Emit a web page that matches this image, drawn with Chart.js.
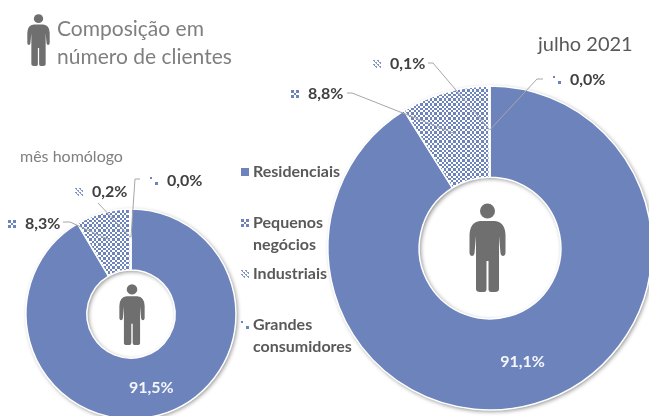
<!DOCTYPE html>
<html lang="pt">
<head>
<meta charset="utf-8">
<title>Composição em número de clientes</title>
<script src="https://cdn.jsdelivr.net/npm/chart.js@4"></script>
<style>
  html, body { margin: 0; padding: 0; background: #fff; }
  body { position: relative; width: 649px; height: 416px; overflow: hidden; font-family: Lato, sans-serif; }
  canvas { position: absolute; left: 0; top: 0; }
  .txt { position: absolute; white-space: nowrap; }
  svg { position: absolute; fill: #6f6f6f; }
</style>
</head>
<body>
<svg style="left:27px;top:14px;width:23px;height:52px" viewBox="0 0 37 89" preserveAspectRatio="none"><use href="#pessoa"/></svg>
<svg style="left:469px;top:203px;width:37px;height:89px" viewBox="0 0 37 89"><use href="#pessoa"/></svg>
<svg style="left:119px;top:284px;width:26px;height:61px" viewBox="0 0 37 89" preserveAspectRatio="none"><use href="#pessoa"/></svg>
<svg width="0" height="0"><defs><g id="pessoa">
  <circle cx="18.5" cy="8" r="7.5"/>
  <path d="M11 18 H26 Q36 19 36.5 32 V50 Q36 53 34 53 Q32 53 31.5 50 L30 33 V86 Q30 89 26 89 H22 Q19.5 89 19.5 86 V58 H17.5 V86 Q17.5 89 15 89 H11 Q7 89 7 86 V33 L5.5 50 Q5 53 3 53 Q1 53 .5 50 V32 Q1 19 11 18Z"/>
</g></defs></svg>

<canvas id="graficoHomologo" width="660" height="440" style="width:660px;height:440px"></canvas>
<canvas id="graficoJulho" width="660" height="440" style="width:660px;height:440px"></canvas>

<div class="txt" style="left:57px;top:14px;font-size:21px;line-height:28px;color:#7f7f7f">Composição em<br>número de clientes</div>
<div class="txt" style="left:538px;top:29px;font-size:20px;line-height:28px;color:#595959">julho 2021</div>
<div class="txt" style="left:20px;top:146px;font-size:16px;line-height:19px;color:#7f7f7f">mês homólogo</div>

<script>
// Dados
const categorias = ['Residenciais', 'Pequenos negócios', 'Industriais', 'Grandes consumidores'];
const valoresHomologo = [91.5, 8.3, 0.2, 0.0];
const valoresJulho = [91.1, 8.8, 0.1, 0.0];

const AZUL = '#6d83bb';
const CINZA_TEXTO = '#404040';

// Posição dos rótulos externos: [x do texto, y do texto, início da linha, cotovelo da linha]
const rotulosHomologo = [
    null,
    [25, 224, [63, 222], [70, 222]],
    [92, 192, [98, 203], [98, 203]],
    [167, 181, [140, 179], [135, 179]]
];
const rotulosJulho = [
    null,
    [308, 94, [347, 93], [352, 93]],
    [390, 64, [428, 63], [433, 63]],
    [570, 80, [543, 79], [537, 79]]
];

// Posição vertical das linhas da legenda
const legendaY = [[172], [223, 245], [274], [325, 347]];

// Cria as texturas das fatias
function criarPadrao(tam, desenhar) {
    const c = document.createElement('canvas');
    c.width = tam;
    c.height = tam;
    const g = c.getContext('2d');
    g.fillStyle = '#fff';
    g.fillRect(0, 0, tam, tam);
    g.fillStyle = AZUL;
    desenhar(g);
    return c.getContext('2d').createPattern(c, 'repeat');
}

// Xadrez com período próximo de 4,7 px, em pixels inteiros para ficar nítido
const padraoPequenos = criarPadrao(14, g => {
    const cortes = [0, 3, 5, 8, 10, 12, 14];
    for (let i = 0; i < 6; i++) {
        for (let j = 0; j < 6; j++) {
            if ((i + j) % 2 === 0) {
                g.fillRect(cortes[i], cortes[j], cortes[i + 1] - cortes[i], cortes[j + 1] - cortes[j]);
            }
        }
    }
});
const padraoIndustriais = criarPadrao(4, g => {
    g.globalAlpha = 0.85;
    g.fillRect(0, 0, 2, 1);
    g.fillRect(2, 2, 2, 1);
    g.fillRect(1, 1, 1, 1);
    g.fillRect(3, 3, 1, 1);
});
const padraoGrandes = criarPadrao(8, g => {
    g.fillRect(0, 0, 2, 2);
    g.fillRect(5, 5, 3, 3);
});
const coresFatias = [AZUL, padraoPequenos, padraoIndustriais, padraoGrandes];

// Marcador quadrado com a textura presa ao seu canto
function desenharMarcador(ctx, cor, x, y, lado) {
    ctx.save();
    ctx.translate(x, y);
    ctx.fillStyle = cor;
    ctx.fillRect(0, 0, lado, lado);
    ctx.restore();
}

// Ponto dentro do anel, usado pelos rótulos e pelas linhas de chamada
function pontoNoAnel(arco) {
    const p = arco.getProps(['x', 'y', 'startAngle', 'endAngle', 'outerRadius']);
    const ang = (p.startAngle + p.endAngle) / 2;
    const r = p.outerRadius * 0.73;
    return [p.x + Math.cos(ang) * r, p.y + Math.sin(ang) * r];
}

function formatar(v) {
    return v.toFixed(1).replace('.', ',') + '%';
}

// Sombra do anel inteiro, desenhada uma vez antes das fatias
const sombraPlugin = {
    id: 'sombra',
    beforeDatasetsDraw(chart) {
        const ctx = chart.ctx;
        const p = chart.getDatasetMeta(0).data[0].getProps(['x', 'y', 'outerRadius', 'innerRadius']);
        ctx.save();
        ctx.shadowColor = 'rgba(0,0,0,0.45)';
        ctx.shadowBlur = 4;
        ctx.shadowOffsetX = 1.5;
        ctx.shadowOffsetY = 1.5;
        ctx.fillStyle = '#fff';
        ctx.beginPath();
        ctx.arc(p.x, p.y, p.outerRadius, 0, Math.PI * 2);
        ctx.arc(p.x, p.y, p.innerRadius, 0, Math.PI * 2, true);
        ctx.fill();
        ctx.restore();
    }
};

// Rótulos com linha de chamada e marcador da série
const rotulosPlugin = {
    id: 'rotulos',
    afterDraw(chart, args, opts) {
        const ctx = chart.ctx;
        const arcos = chart.getDatasetMeta(0).data;
        const valores = chart.data.datasets[0].data;
        ctx.save();
        ctx.textBaseline = 'middle';
        ctx.font = 'bold 16px Lato, sans-serif';
        arcos.forEach((arco, i) => {
            const [ax, ay] = pontoNoAnel(arco);
            const pos = opts.posicoes[i];
            if (!pos) {
                ctx.fillStyle = '#f4f6fb';
                ctx.textAlign = 'center';
                ctx.fillText(formatar(valores[i]), ax, ay);
                return;
            }
            ctx.strokeStyle = '#a6a6a6';
            ctx.lineWidth = 1;
            ctx.beginPath();
            ctx.moveTo(pos[2][0], pos[2][1]);
            ctx.lineTo(pos[3][0], pos[3][1]);
            ctx.lineTo(ax, ay);
            ctx.stroke();
            desenharMarcador(ctx, chart.data.datasets[0].backgroundColor[i], pos[0] - 17, pos[1] - 4, 8);
            ctx.fillStyle = CINZA_TEXTO;
            ctx.textAlign = 'left';
            ctx.fillText(formatar(valores[i]), pos[0], pos[1]);
        });
        ctx.restore();
    }
};

// Legenda central, desenhada a partir das categorias
const legendaPlugin = {
    id: 'legendaCentral',
    afterDraw(chart) {
        const ctx = chart.ctx;
        ctx.save();
        ctx.textBaseline = 'middle';
        ctx.textAlign = 'left';
        ctx.font = 'bold 16px Lato, sans-serif';
        categorias.forEach((cat, i) => {
            const linhas = legendaY[i].length > 1 ? cat.split(' ') : [cat];
            desenharMarcador(ctx, coresFatias[i], 241, legendaY[i][0] - 4, 8);
            ctx.fillStyle = '#595959';
            linhas.forEach((txt, j) => ctx.fillText(txt, 253, legendaY[i][j]));
        });
        ctx.restore();
    }
};

function criarGrafico(id, valores, raio, furo, padding, posicoes, extras) {
    return new Chart(document.getElementById(id), {
        type: 'doughnut',
        data: {
            labels: categorias,
            datasets: [{
                data: valores,
                backgroundColor: coresFatias,
                borderColor: '#ffffff',
                borderWidth: 1.5
            }]
        },
        options: {
            responsive: false,
            animation: false,
            radius: raio,
            cutout: furo,
            layout: { padding: padding },
            plugins: {
                legend: { display: false },
                tooltip: { enabled: false },
                rotulos: { posicoes: posicoes }
            }
        },
        plugins: [sombraPlugin, rotulosPlugin].concat(extras)
    });
}

criarGrafico('graficoHomologo', valoresHomologo, 105, 48,
    { left: 16, right: 414, top: 199, bottom: 11 }, rotulosHomologo, []);
criarGrafico('graficoJulho', valoresJulho, 162, 74,
    { left: 320, right: 0, top: 78, bottom: 22 }, rotulosJulho, [legendaPlugin]);
</script>
</body>
</html>
